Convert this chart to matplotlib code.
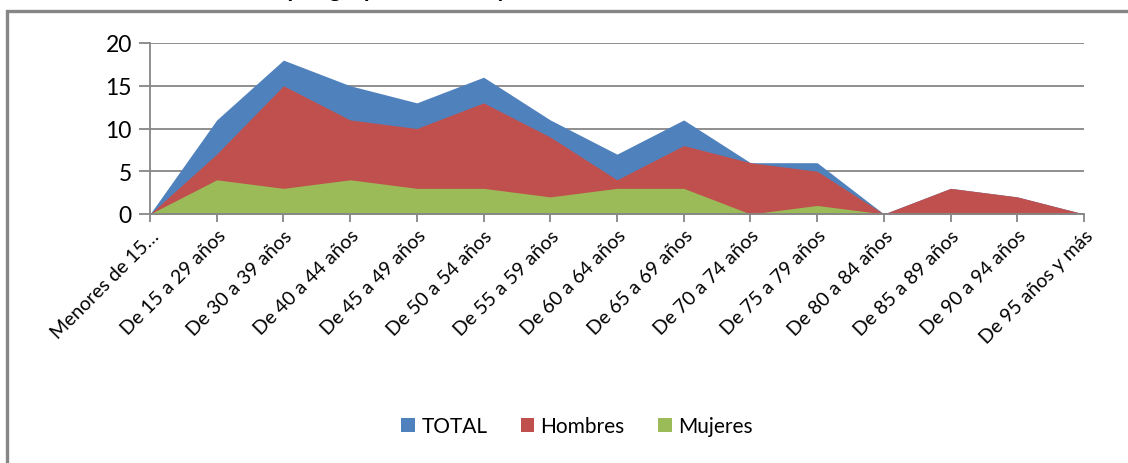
import numpy as np
import matplotlib
matplotlib.use("Agg")
import matplotlib.pyplot as plt
from matplotlib.patches import Rectangle

plt.rcParams['font.family'] = ['Lato', 'DejaVu Sans']

categorias = ["Menores de 15…", "De 15 a 29 años", "De 30 a 39 años", "De 40 a 44 años",
              "De 45 a 49 años", "De 50 a 54 años", "De 55 a 59 años", "De 60 a 64 años",
              "De 65 a 69 años", "De 70 a 74 años", "De 75 a 79 años", "De 80 a 84 años",
              "De 85 a 89 años", "De 90 a 94 años", "De 95 años y más"]
total = [0, 11, 18, 15, 13, 16, 11, 7, 11, 6, 6, 0, 3, 2, 0]
hombres = [0, 7, 15, 11, 10, 13, 9, 4, 8, 6, 5, 0, 3, 2, 0]
mujeres = [0, 4, 3, 4, 3, 3, 2, 3, 3, 0, 1, 0, 0, 0, 0]

series = [("TOTAL", total, "#4F81BD"),
          ("Hombres", hombres, "#C0504D"),
          ("Mujeres", mujeres, "#9BBB59")]

W, H = 1128, 464
fig = plt.figure(figsize=(W / 100, H / 100), dpi=100)

# marco exterior del gráfico (sólo se ven los bordes izquierdo y superior)
fig.patches.append(Rectangle((7 / W, -0.2), 1.5, 1.2 - 12 / H, transform=fig.transFigure,
                             fill=False, edgecolor="#868686", linewidth=2.4))

# título recortado en la parte superior
fig.text(178 / W, 1 + 3 / H, "Población por grupos de edad y sexo", fontsize=17,
         fontweight="bold", va="baseline", ha="left")

ax = fig.add_axes([150 / W, 1 - 215 / H, (1084 - 150) / W, (215 - 44) / H])
x = np.arange(len(categorias))
for nombre, vals, color in series:
    ax.fill_between(x, 0, vals, color=color, label=nombre, linewidth=0)

ax.set_xlim(0, len(categorias) - 1)
ax.set_ylim(0, 20)
ax.set_yticks([0, 5, 10, 15, 20])
ax.yaxis.grid(True, color="#868686", linewidth=1.3)
ax.set_axisbelow(True)
for s in ["top", "right"]:
    ax.spines[s].set_visible(False)
for s in ["left", "bottom"]:
    ax.spines[s].set_color("#868686")
    ax.spines[s].set_linewidth(1.3)
ax.spines["bottom"].set_zorder(5)
ax.tick_params(axis="y", length=8, color="#868686", width=1.3, labelsize=16.5, pad=5)
ax.tick_params(axis="x", length=6, color="#868686", width=1.3, labelsize=14, pad=3)
ax.set_xticks(x)
ax.set_xticklabels(categorias, rotation=45, ha="right", rotation_mode="anchor")

leg = fig.legend(loc="center", bbox_to_anchor=(577 / W, 1 - 427 / H), ncol=3, frameon=False,
                 fontsize=15, handlelength=0.65, handleheight=0.65, handletextpad=0.3,
                 columnspacing=1.6)

fig.savefig("out.png", dpi=100)
